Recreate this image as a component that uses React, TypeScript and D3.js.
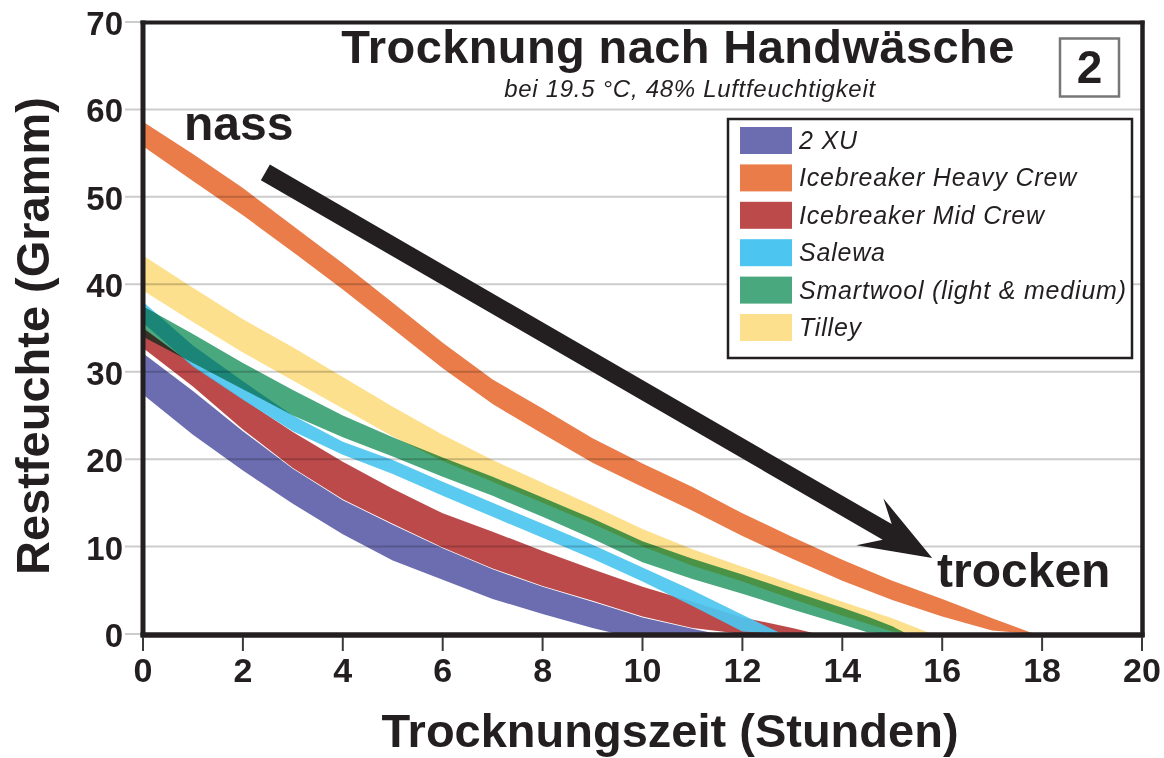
import React from 'react';
import * as d3 from 'd3';

// ---------- data (hours, lower bound g, upper bound g) ----------
const hourTicks = [0, 2, 4, 6, 8, 10, 12, 14, 16, 18, 20];
const gramTicks = [0, 10, 20, 30, 40, 50, 60, 70];

const seriesNames = ['2 XU', 'Icebreaker Heavy Crew', 'Icebreaker Mid Crew', 'Salewa', 'Smartwool (light & medium)', 'Tilley'];
const seriesColors = ['#6c6db0', '#ea7c4a', '#bd4a4b', '#4cc5f0', '#4aa87e', '#fde08d'];

const band2XU = [
  [0, 27.4, 32.1], [1, 22.8, 27.8], [2, 18.7, 23.2], [3, 14.9, 18.9], [4, 11.4, 15.3],
  [5, 8.4, 12.5], [6, 6.2, 9.8], [7, 4.0, 7.4], [8, 2.3, 5.4], [9, 0.7, 3.7],
  [9.5, 0, 2.8], [10, 0, 1.9], [11, 0, 0.6], [11.5, 0, 0],
];
const bandHeavy = [
  [0, 55.8, 58.6], [1, 51.8, 54.9], [2, 47.9, 51.0], [3, 43.7, 46.7], [4, 39.4, 42.4],
  [5, 34.9, 37.9], [6, 30.4, 33.3], [7, 26.3, 29.1], [8, 22.9, 25.8], [9, 19.6, 22.4],
  [10, 16.8, 19.5], [11, 14.1, 16.8], [12, 11.2, 13.8], [13, 8.6, 11.1], [14, 6.1, 8.5],
  [15, 3.9, 6.1], [16, 2.0, 4.0], [17, 0.4, 1.8], [17.85, 0, 0],
];
const bandMid = [
  [0, 32.7, 35.0], [1, 28.3, 30.8], [2, 23.4, 26.9], [3, 19.0, 23.1], [4, 15.4, 19.7],
  [5, 12.6, 16.6], [6, 9.9, 13.8], [7, 7.5, 11.7], [8, 5.5, 9.5], [9, 3.8, 7.4],
  [10, 2.0, 5.4], [11, 0.7, 3.7], [12, 0, 1.9], [13, 0, 0.7], [13.5, 0, 0],
];
const bandSalewa = [
  [0, 35.6, 38.0], [1, 30.6, 33.0], [2, 26.8, 28.9], [3, 23.2, 25.0], [4, 20.5, 22.0],
  [5, 18.3, 19.9], [6, 15.8, 17.4], [7, 13.4, 15.0], [8, 11.0, 12.6], [9, 8.6, 10.2],
  [10, 6.0, 7.6], [11, 3.2, 5.0], [12, 0.3, 2.2], [12.8, 0, 0],
];
const bandSmartwool = [
  [0, 34.0, 37.5], [1, 31.0, 34.3], [2, 28.0, 31.0], [3, 25.0, 27.9], [4, 22.5, 25.0],
  [5, 20.3, 22.5], [6, 18.0, 20.2], [7, 15.8, 18.0], [8, 13.4, 15.6], [9, 10.9, 13.2],
  [10, 8.2, 10.6], [11, 6.3, 8.6], [12, 4.6, 6.8], [13, 2.8, 4.9], [14, 1.1, 3.0],
  [14.5, 0.2, 2.0], [15, 0, 0.9], [15.3, 0, 0],
];
const bandTilley = [
  [0, 39.3, 43.3], [1, 35.7, 39.6], [2, 32.2, 36.0], [3, 29.0, 32.8], [4, 25.8, 29.4],
  [5, 22.6, 26.0], [6, 19.8, 22.8], [7, 17.4, 19.9], [8, 15.0, 17.3], [9, 12.6, 14.7],
  [10, 10.0, 12.0], [11, 7.8, 9.7], [12, 6.0, 7.7], [13, 4.0, 5.7], [14, 2.1, 3.7],
  [15, 0.3, 1.8], [15.8, 0, 0],
];

const seriesBands = [band2XU, bandHeavy, bandMid, bandSalewa, bandSmartwool, bandTilley];
// drawing order and blend per series index
const drawOrder = [0, 2, 1, 3, 4, 5];
const blendModes = ['normal', 'normal', 'multiply', 'normal', 'multiply', 'multiply'];
const opacities = [1, 1, 1, 0.92, 1, 1];

// arrow annotation (data coords)
const arrowFrom = [2.45, 52.8];
const arrowTo = [15.8, 8.7];

const FONT = '"Liberation Sans", Arial, Helvetica, sans-serif';
const INK = '#231f20';

export default function App() {
  const W = 1164;
  const H = 758;
  const x = d3.scaleLinear().domain([0, 20]).range([143, 1142]);
  const y = d3.scaleLinear().domain([0, 70]).range([634, 22]);

  const area = d3
    .area<number[]>()
    .x((d) => x(d[0]))
    .y0((d) => y(d[1]))
    .y1((d) => y(d[2]))
    .curve(d3.curveLinear);

  // arrow polygon
  const sx = x(arrowFrom[0]);
  const sy = y(arrowFrom[1]);
  const tx = x(arrowTo[0]);
  const ty = y(arrowTo[1]);
  const len = Math.hypot(tx - sx, ty - sy);
  const ux = (tx - sx) / len;
  const uy = (ty - sy) / len;
  const nx = -uy;
  const ny = ux;
  const P = (a: number, c: number) => [sx + ux * a + nx * c, sy + uy * a + ny * c];
  const arrowPts = [
    P(0, -9), P(len - 52, -9), P(len - 72, -27), P(len, 0), P(len - 72, 27), P(len - 52, 9), P(0, 9),
  ];

  const legendX = 728;
  const legendY = 119;
  const legendStep = 37.4;

  return (
    <svg
      width={W}
      height={H}
      viewBox={`0 0 ${W} ${H}`}
      style={{ position: 'absolute', left: 0, top: 0, background: '#fff' }}
      fontFamily={FONT}
    >
      <rect x={0} y={0} width={W} height={H} fill="#fff" />

      {/* bands */}
      <g>
        {drawOrder.map((i) => (
          <path
            key={seriesNames[i]}
            d={area(seriesBands[i] as number[][]) || ''}
            fill={seriesColors[i]}
            fillOpacity={opacities[i]}
            style={{ mixBlendMode: blendModes[i] as any }}
          />
        ))}
      </g>

      {/* gridlines */}
      <g>
        {gramTicks.map((t) => (
          <line key={t} x1={125} x2={1141} y1={y(t)} y2={y(t)} stroke="#000" strokeOpacity={0.2} strokeWidth={2} />
        ))}
      </g>

      {/* arrow */}
      <polygon points={arrowPts.map((p) => p.join(',')).join(' ')} fill={INK} />

      {/* frame */}
      <line x1={x(0)} x2={x(0)} y1={20.5} y2={637} stroke={INK} strokeWidth={5} />
      <line x1={140.5} x2={1144.5} y1={y(0) + 1} y2={y(0) + 1} stroke={INK} strokeWidth={5.5} />
      <line x1={140.5} x2={1144.5} y1={22.5} y2={22.5} stroke={INK} strokeWidth={4} />
      <line x1={1142.5} x2={1142.5} y1={20.5} y2={637} stroke={INK} strokeWidth={4.5} />

      {/* x ticks */}
      {hourTicks.map((t) => (
        <g key={t}>
          <line x1={x(t)} x2={x(t)} y1={637} y2={651} stroke="#3a3a3a" strokeWidth={2} />
          <text x={x(t)} y={682} textAnchor="middle" fontSize={34} fontWeight="bold" fill={INK}>
            {t}
          </text>
        </g>
      ))}

      {/* y tick labels */}
      {gramTicks.map((t) => (
        <text key={t} x={123} y={y(t) + 13} textAnchor="end" fontSize={33} fontWeight="bold" fill={INK}>
          {t}
        </text>
      ))}

      {/* axis titles */}
      <text x={670} y={747} textAnchor="middle" fontSize={47} fontWeight="bold" fill={INK}>
        Trocknungszeit (Stunden)
      </text>
      <text
        transform={`translate(49,336) rotate(-90)`}
        textAnchor="middle"
        fontSize={47}
        fontWeight="bold"
        fill={INK}
      >
        Restfeuchte (Gramm)
      </text>

      {/* titles */}
      <text x={678} y={63} textAnchor="middle" fontSize={47} fontWeight="bold" fill={INK} letterSpacing={0.4}>
        Trocknung nach Handwäsche
      </text>
      <text x={690} y={97} textAnchor="middle" fontSize={24} fontStyle="italic" fill={INK} letterSpacing={0.7}>
        bei 19.5 °C, 48% Luftfeuchtigkeit
      </text>

      {/* chart number box */}
      <rect x={1060} y={38.5} width={59} height={58} fill="#fff" stroke="#777" strokeWidth={2.5} />
      <text x={1089.5} y={83} textAnchor="middle" fontSize={46} fontWeight="bold" fill={INK}>
        2
      </text>

      {/* annotations */}
      <text x={184} y={140} fontSize={48} fontWeight="bold" fill={INK}>
        nass
      </text>
      <text x={937} y={587} fontSize={48} fontWeight="bold" fill={INK}>
        trocken
      </text>

      {/* legend */}
      <rect x={legendX} y={legendY} width={404} height={239} fill="#fff" stroke={INK} strokeWidth={2.5} />
      {seriesNames.map((name, i) => {
        const base = 149 + i * legendStep;
        return (
          <g key={name}>
            <rect x={740} y={base - 22} width={52} height={27} fill={seriesColors[i]} />
            <text x={799} y={base} fontSize={25} fontStyle="italic" fill={INK} letterSpacing={0.8}>
              {name}
            </text>
          </g>
        );
      })}
    </svg>
  );
}
